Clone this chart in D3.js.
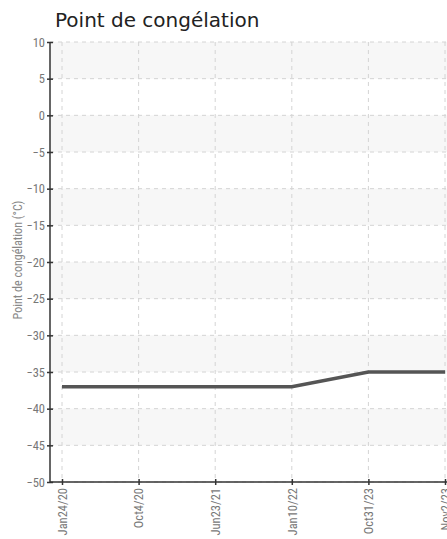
<!DOCTYPE html>
<html lang="fr">
<head>
    <meta charset="UTF-8">
    <title>Point de congélation</title>
    <script src="https://d3js.org/d3.v7.min.js"></script>
    <style>
        body {
            margin: 0;
            background: #fff;
        }
        .title {
            font-family: 'DejaVu Sans', sans-serif;
            font-size: 20px;
            fill: #222;
        }
        .axis text {
            font-family: 'Roboto Condensed', 'DejaVu Sans Condensed', 'Liberation Sans Narrow', sans-serif;
            font-size: 12.5px;
            fill: #777;
        }
        .axis path, .axis line {
            stroke: #333;
            stroke-width: 1.5;
        }
        .grid line {
            stroke: #d4d4d4;
            stroke-dasharray: 4,4;
        }
        .ylabel {
            font-family: 'Roboto Condensed', 'DejaVu Sans Condensed', 'Liberation Sans Narrow', sans-serif;
            font-size: 12px;
            fill: #888;
        }
    </style>
</head>
<body>
<div id="chart"></div>
<script>
    // data
    const dates = ["Jan24/20", "Oct4/20", "Jun23/21", "Jan10/22", "Oct31/23", "Nov2/23"];
    const freezePoint = [-37, -37, -37, -37, -35, -35];
    const yTicks = [10, 5, 0, -5, -10, -15, -20, -25, -30, -35, -40, -45, -50];

    const W = 447, H = 539;
    const plotLeft = 50, plotRight = 447, plotTop = 42, plotBottom = 482;

    const svg = d3.select("#chart").append("svg")
        .attr("width", W)
        .attr("height", H);

    const x = d3.scalePoint()
        .domain(dates)
        .range([62, 445]);

    const y = d3.scaleLinear()
        .domain([-50, 10])
        .range([plotBottom, plotTop]);

    // alternating bands
    const bands = [];
    for (let i = 0; i < yTicks.length - 1; i += 2) {
        bands.push([yTicks[i], yTicks[i + 1]]);
    }
    svg.append("g").selectAll("rect")
        .data(bands)
        .join("rect")
        .attr("x", plotLeft)
        .attr("width", plotRight - plotLeft)
        .attr("y", d => y(d[0]))
        .attr("height", d => y(d[1]) - y(d[0]))
        .attr("fill", "#f7f7f7");

    // grid
    const grid = svg.append("g").attr("class", "grid");
    grid.selectAll(".h")
        .data(yTicks)
        .join("line")
        .attr("class", "h")
        .attr("x1", plotLeft).attr("x2", plotRight)
        .attr("y1", d => y(d)).attr("y2", d => y(d));
    grid.selectAll(".v")
        .data(dates)
        .join("line")
        .attr("class", "v")
        .attr("x1", d => x(d)).attr("x2", d => x(d))
        .attr("y1", plotTop).attr("y2", plotBottom);

    // line
    const line = d3.line()
        .x((d, i) => x(dates[i]))
        .y(d => y(d));

    svg.append("path")
        .datum(freezePoint)
        .attr("fill", "none")
        .attr("stroke", "#555")
        .attr("stroke-width", 3.5)
        .attr("d", line);

    // axes
    const yAxis = svg.append("g")
        .attr("class", "axis")
        .attr("transform", `translate(${plotLeft},0)`)
        .call(d3.axisLeft(y).tickValues(yTicks).tickSize(3).tickPadding(2));
    yAxis.select(".domain").attr("d", `M0,${plotTop}V${plotBottom}`);
    yAxis.selectAll(".tick line").attr("x1", 3).attr("x2", -3);

    const xAxis = svg.append("g")
        .attr("class", "axis")
        .attr("transform", `translate(0,${plotBottom})`)
        .call(d3.axisBottom(x).tickSize(3).tickPadding(5));
    xAxis.select(".domain").attr("d", `M${plotLeft},0H${plotRight}`);
    xAxis.selectAll(".tick line").attr("y1", -3).attr("y2", 3);
    xAxis.selectAll(".tick text")
        .attr("transform", "rotate(-90)")
        .attr("text-anchor", "end")
        .attr("dy", "0.35em")
        .attr("x", -6)
        .attr("y", 0);

    // title and y label
    svg.append("text")
        .attr("class", "title")
        .attr("x", 55)
        .attr("y", 27)
        .text("Point de congélation");

    svg.append("text")
        .attr("class", "ylabel")
        .attr("transform", `translate(22,260) rotate(-90)`)
        .attr("text-anchor", "middle")
        .text("Point de congélation (°C)");
</script>
</body>
</html>
